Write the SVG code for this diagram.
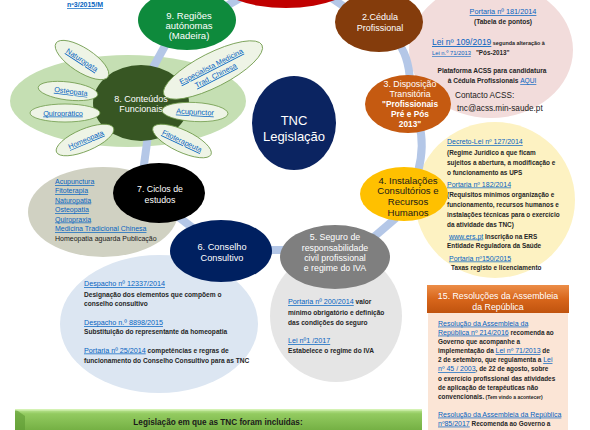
<svg xmlns="http://www.w3.org/2000/svg" width="590" height="430" viewBox="0 0 590 430">
<defs>
<linearGradient id="g15" x1="0" y1="0" x2="0" y2="1"><stop offset="0" stop-color="#ec8d47"/><stop offset="0.5" stop-color="#d8661b"/><stop offset="1" stop-color="#c0530e"/></linearGradient>
<linearGradient id="gbar" x1="0" y1="0" x2="0" y2="1"><stop offset="0" stop-color="#c3ea9c"/><stop offset="0.2" stop-color="#93cb60"/><stop offset="1" stop-color="#6fab3f"/></linearGradient>
</defs>
<style>
text{font-family:"Liberation Sans",Arial,sans-serif}
.nd{fill:#fff;text-anchor:middle}
.t{font-weight:bold;fill:#262626}
.lk{fill:#0563c1;text-decoration:underline;font-weight:normal}
.conn{fill:none;stroke:#b4c7e7;stroke-width:8}
.pet{fill:#eef4e6;stroke:#6f9a4a;stroke-width:0.8}
.pt{fill:#0563c1;text-decoration:underline;text-anchor:middle}
</style>
<rect width="590" height="430" fill="#fff"/>

<text x="67" y="7" class="lk" font-size="7" style="font-weight:bold">nº3/2015/M</text>

<!-- note bubbles -->
<g id="notes-2">
<ellipse cx="491" cy="50" rx="82" ry="68" fill="#f2dcdb"/>
<text x="503" y="14" class="lk" font-size="7.3" text-anchor="middle">Portaria nº 181/2014</text>
<text x="503" y="24" class="t" font-size="6.6" text-anchor="middle">(Tabela de pontos)</text>
<text x="432" y="45"><tspan class="lk" font-size="8.5">Lei nº 109/2019</tspan><tspan class="t" font-size="5.4"> segunda alteração à</tspan></text>
<text x="432" y="55"><tspan class="lk" font-size="5.8">Lei n.º 71/2013</tspan><tspan class="t" font-size="6.3" dx="5">"Pós-2013"</tspan></text>
<text x="492" y="73" class="t" font-size="6.6" text-anchor="middle">Plataforma ACSS para candidatura</text>
<text x="492" y="83" class="t" font-size="6.6" text-anchor="middle">à Cédula Profissionais <tspan class="lk">AQUI</tspan></text>
<text x="455" y="98" font-size="8.2" fill="#1a1a1a">Contacto ACSS:</text>
<text x="457" y="111" font-size="8.2" fill="#1a1a1a">tnc@acss.min-saude.pt</text>
</g>

<g id="notes-4">
<ellipse cx="495" cy="200" rx="80" ry="78" fill="#fdf2c2"/>
<g font-size="6.4">
<text x="447" y="144" class="lk" font-size="7">Decreto-Lei nº 127/2014</text>
<text x="447" y="154.5" class="t">(Regime Jurídico a que ficam</text>
<text x="447" y="164.5" class="t">sujeitos  a abertura, a modificação e</text>
<text x="447" y="174.5" class="t">o funcionamento as UPS</text>
<text x="447" y="186.5" class="lk" font-size="7">Portaria nº 182/2014</text>
<text x="447" y="196.5" class="t">(Requisitos mínimos organização e</text>
<text x="447" y="206.5" class="t">funcionamento, recursos humanos e</text>
<text x="447" y="216.5" class="t">instalações técnicas para o exercício</text>
<text x="447" y="226.5" class="t">da atividade das TNC)</text>
<text x="449" y="238.5"><tspan class="lk" font-size="7">www.ers.pt</tspan><tspan class="t"> Inscrição na ERS</tspan></text>
<text x="447" y="248" class="t">Entidade Reguladora da Saúde</text>
<text x="449" y="260.5" class="lk" font-size="7">Portaria nº150/2015</text>
<text x="451" y="270" class="t">Taxas registo e licenciamento</text>
</g>
</g>

<g id="notes-5">
<ellipse cx="336" cy="316" rx="66" ry="66" fill="#e5e5e5"/>
<g font-size="6.6">
<text x="288" y="304"><tspan class="lk" font-size="7.2">Portaria nº 200/2014</tspan><tspan class="t"> valor</tspan></text>
<text x="288" y="315" class="t">mínimo obrigatório e definição</text>
<text x="288" y="325" class="t">das condições do seguro</text>
<text x="288" y="343" class="lk" font-size="7.2">Lei nº1 /2017</text>
<text x="288" y="352.5" class="t">Estabelece o regime do IVA</text>
</g>
</g>

<g id="notes-6">
<ellipse cx="159" cy="324" rx="99" ry="69" fill="#dce6f2"/>
<g font-size="6.6">
<text x="84" y="286" class="lk" font-size="7.2">Despacho nº 12337/2014</text>
<text x="84" y="296.5" class="t">Designação dos elementos que compõem o</text>
<text x="84" y="306" class="t">conselho consultivo</text>
<text x="84" y="325" class="lk" font-size="7.2">Despacho n.º 8898/2015</text>
<text x="84" y="334" class="t">Substituição do representante da homeopatia</text>
<text x="84" y="352.5"><tspan class="lk" font-size="7.2">Portaria nº 25/2014</tspan><tspan class="t"> competências e regras de</tspan></text>
<text x="84" y="362.5" class="t">funcionamento do Conselho Consultivo para as TNC</text>
</g>
</g>

<g id="notes-7">
<ellipse cx="103" cy="212" rx="75" ry="45" fill="#d0d1c2"/>
<g font-size="7">
<text x="55" y="184" class="lk">Acupunctura</text>
<text x="55" y="193" class="lk">Fitoterapia</text>
<text x="55" y="202.5" class="lk">Naturopatia</text>
<text x="55" y="212" class="lk">Osteopatia</text>
<text x="55" y="221.5" class="lk">Quiropraxia</text>
<text x="55" y="231" class="lk">Medicina Tradicional Chinesa</text>
<text x="55" y="241" fill="#1a1a1a">Homeopatia aguarda Publicação</text>
</g>
</g>

<g id="notes-8">
<ellipse cx="128" cy="101" rx="118" ry="46" fill="#c5dfb3"/>
</g>

<!-- connectors -->
<g id="connectors">
<path class="conn" d="M216 12 L242 -3"/>
<path class="conn" d="M330 -3 L352 12"/>
<path class="conn" d="M396 40 Q409 55 410 82"/>
<path class="conn" d="M419 124 Q425 145 418 172"/>
<path class="conn" d="M368 242 L396 218"/>
<path class="conn" d="M262 250 L292 250"/>
<path class="conn" d="M172 212 L202 235"/>
<path class="conn" d="M149 128 L143 172"/>
<path class="conn" d="M166 44 L145 82"/>
</g>

<!-- nodes -->
<g id="node-center">
<ellipse cx="294" cy="123" rx="42" ry="47" fill="#0b2461"/>
<text x="294" y="125" class="nd" font-size="13">TNC</text>
<text x="294" y="141" class="nd" font-size="13">Legislação</text>
</g>

<g id="node-1">
<ellipse cx="286" cy="-22" rx="72" ry="30" fill="#c00000"/>
</g>

<g id="node-2">
<ellipse cx="379" cy="22" rx="44" ry="30" fill="#843c0c"/>
<text x="380" y="20" class="nd" font-size="9">2.Cédula</text>
<text x="380" y="30.5" class="nd" font-size="9">Profissional</text>
</g>

<g id="node-3">
<ellipse cx="408" cy="104" rx="43" ry="29" fill="#c55a11"/>
<text x="410" y="86.5" class="nd" font-size="8.8">3. Disposição</text>
<text x="410" y="96.5" class="nd" font-size="8.8">Transitória</text>
<text x="410" y="106.5" class="nd" font-size="8.3" font-weight="bold">"Profissionais</text>
<text x="410" y="116.5" class="nd" font-size="8.3" font-weight="bold">Pré e Pós</text>
<text x="410" y="127" class="nd" font-size="8.3" font-weight="bold">2013"</text>
</g>

<g id="node-4">
<ellipse cx="404" cy="194" rx="44" ry="27" fill="#ffc000"/>
<g fill="#1a1a1a" font-size="9.6" text-anchor="middle">
<text x="408" y="183.5">4. Instalações</text>
<text x="408" y="194">Consultórios e</text>
<text x="408" y="205">Recursos</text>
<text x="408" y="215.5">Humanos</text>
</g>
</g>

<g id="node-5">
<ellipse cx="335" cy="257" rx="55" ry="32" fill="#7f7f7f"/>
<text x="335" y="240" class="nd" font-size="8.8">5. Seguro de</text>
<text x="335" y="250.5" class="nd" font-size="8.8">responsabilidade</text>
<text x="335" y="260.5" class="nd" font-size="8.8">civil profissional</text>
<text x="335" y="271" class="nd" font-size="8.8">e regime do  IVA</text>
</g>

<g id="node-6">
<ellipse cx="221" cy="251" rx="51" ry="31" fill="#002060"/>
<text x="222" y="250" class="nd" font-size="9.2">6. Conselho</text>
<text x="222" y="260.5" class="nd" font-size="9.2">Consultivo</text>
</g>

<g id="node-7">
<ellipse cx="159" cy="193" rx="46" ry="30" fill="#000"/>
<text x="160" y="191.5" class="nd" font-size="8.8">7. Ciclos de</text>
<text x="160" y="202.5" class="nd" font-size="8.8">estudos</text>
</g>

<g id="node-8">
<ellipse cx="141" cy="103" rx="48" ry="38" fill="#375623"/>
<text x="141" y="101.5" class="nd" font-size="9">8. Conteúdos</text>
<text x="141" y="111.5" class="nd" font-size="9">Funcionais</text>
</g>

<g id="node-9">
<ellipse cx="187" cy="20" rx="49" ry="30" fill="#0e8a3c"/>
<text x="189" y="18.5" class="nd" font-size="9.5">9. Regiões</text>
<text x="189" y="28.5" class="nd" font-size="9.5">autónomas</text>
<text x="189" y="38.5" class="nd" font-size="9.5">(Madeira)</text>
</g>

<!-- petals of node 8 -->
<g font-size="7.3">
<g id="petal-naturopata" transform="translate(82,60) rotate(33)">
<ellipse rx="31" ry="12" class="pet"/>
<text x="0" y="2.5" class="pt">Naturopata</text>
</g>
<g id="petal-osteopata" transform="translate(68,91) rotate(7)">
<ellipse rx="30" ry="9" class="pet"/>
<text x="3" y="2.5" class="pt">Osteopata</text>
</g>
<g id="petal-quiropratico" transform="translate(65,113)">
<ellipse rx="35" ry="9" class="pet"/>
<text x="-2" y="2.5" class="pt">Quiroprático</text>
</g>
<g id="petal-homeopata" transform="translate(85,140) rotate(-23)">
<ellipse rx="31" ry="11" class="pet"/>
<text x="1" y="2.5" class="pt">Homeopata</text>
</g>
<g id="petal-especialista" transform="translate(213,70) rotate(-27)">
<ellipse rx="55" ry="17" class="pet"/>
<text x="0" y="-1.5" class="pt">Especialista Medicina</text>
<text x="0" y="8.5" class="pt">Trad. Chinesa</text>
</g>
<g id="petal-acupunctor" transform="translate(195,112) rotate(3)">
<ellipse rx="33" ry="9.5" class="pet"/>
<text x="0" y="2.5" class="pt" font-size="7.5">Acupunctor</text>
</g>
<g id="petal-fitoterapeuta" transform="translate(182,141) rotate(25)">
<ellipse rx="32" ry="11" class="pet"/>
<text x="0" y="2.5" class="pt">Fitoterapeuta</text>
</g>
</g>

<!-- box 15 -->
<g id="box-15">
<rect x="428" y="313" width="140" height="120" fill="#fbe5d6"/>
<rect x="427" y="285" width="142" height="28" fill="url(#g15)"/>
<text x="498" y="298.5" class="nd" font-size="8.8">15. Resoluções da Assembleia</text>
<text x="498" y="310" class="nd" font-size="8.8">da República</text>
<g font-size="6.4">
<text x="438" y="325.6" class="lk" font-size="7">Resolução da Assembleia da</text>
<text x="438" y="334.6"><tspan class="lk" font-size="7">República nº 214/2016</tspan><tspan class="t"> recomenda ao</tspan></text>
<text x="438" y="344" class="t">Governo que acompanhe a</text>
<text x="438" y="353.3"><tspan class="t">implementação da </tspan><tspan class="lk" font-size="7">Lei nº 71/2013</tspan><tspan class="t"> de</tspan></text>
<text x="438" y="362.3"><tspan class="t">2 de setembro, que regulamenta a </tspan><tspan class="lk" font-size="7">Lei</tspan></text>
<text x="438" y="371.3"><tspan class="lk" font-size="7">nº 45 / 2003</tspan><tspan class="t">, de 22 de agosto, sobre</tspan></text>
<text x="438" y="380.6" class="t">o exercício profissional das atividades</text>
<text x="438" y="389.6" class="t">de aplicação de terapêuticas não</text>
<text x="438" y="399"><tspan class="t">convencionais.</tspan><tspan class="t" font-size="5"> (Tem vindo a acontecer)</tspan></text>
<text x="438" y="416.6" class="lk" font-size="7">Resolução da Assembleia da República</text>
<text x="438" y="425.6"><tspan class="lk" font-size="7">nº85/2017</tspan><tspan class="t"> Recomenda ao Governo a</tspan></text>
</g>
</g>

<!-- green bar -->
<g id="bar-legislacao">
<rect x="15" y="409" width="407" height="24" fill="url(#gbar)"/>
<polygon points="15,409 25,416 25,433 15,433" fill="#5e9a34" opacity="0.6"/>
<rect x="15" y="409" width="407" height="1.5" fill="#d4f2b4"/>
<text x="218" y="425" text-anchor="middle" font-size="8.2" font-weight="bold" fill="#1a1a1a">Legislação em que as TNC foram incluídas:</text>
</g>
</svg>
